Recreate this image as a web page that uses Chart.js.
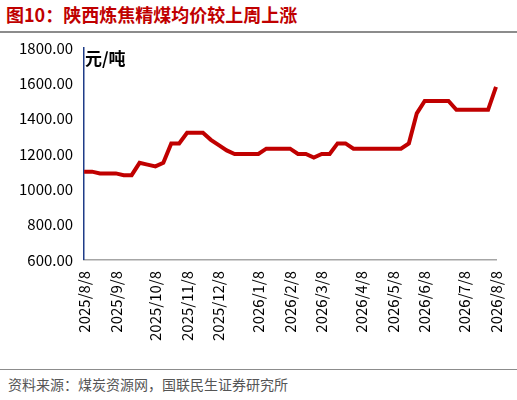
<!DOCTYPE html>
<html><head><meta charset="utf-8">
<script src="https://cdn.jsdelivr.net/npm/chart.js@4"></script>
<style>
body{margin:0;width:517px;height:400px;background:#fff;font-family:"Noto Sans CJK SC",sans-serif;position:relative;overflow:hidden}
#title{position:absolute;left:6px;top:1px;font-size:18px;font-weight:bold;color:#c00000}
#tl{position:absolute;left:0;top:31px;width:517px;border-top:2px solid #8c8c8c}
#bl{position:absolute;left:0;top:369px;width:517px;border-top:1px solid #8c8c8c}
#src{position:absolute;left:8px;top:374px;font-size:14px;color:#555}
#unit{position:absolute;left:85px;top:45px;font-size:17px;font-weight:bold;color:#000}
#wrap{position:absolute;left:0;top:36px;width:517px;height:308px}
</style></head><body>
<div id="title">图10：陕西炼焦精煤均价较上周上涨</div>
<div id="tl"></div>
<div id="wrap"><canvas id="c"></canvas></div>
<div id="unit">元/吨</div>
<div id="bl"></div>
<div id="src">资料来源：煤炭资源网，国联民生证券研究所</div>
<script>
const monthLabels = ["2025/8/8","2025/9/8","2025/10/8","2025/11/8","2025/12/8","2026/1/8","2026/2/8","2026/3/8","2026/4/8","2026/5/8","2026/6/8","2026/7/8","2026/8/8"];
const prices = [1100,1100,1090,1090,1090,1080,1080,1150,1140,1130,1150,1260,1260,1320,1320,1320,1280,1250,1220,1200,1200,1200,1200,1230,1230,1230,1230,1200,1200,1180,1200,1200,1260,1260,1230,1230,1230,1230,1230,1230,1230,1260,1430,1500,1500,1500,1500,1450,1450,1450,1450,1450,1580];
const yTicks = [600,800,1000,1200,1400,1600,1800];

const n = prices.length;
const labels = new Array(n).fill("");
monthLabels.forEach((m, k) => { labels[Math.round(k * (n - 1) / (monthLabels.length - 1))] = m; });

new Chart(document.getElementById("c"), {
    type: "line",
    data: {
        labels: labels,
        datasets: [{
            data: prices,
            borderColor: "#c00000",
            borderWidth: 4,
            pointRadius: 0,
            tension: 0
        }]
    },
    options: {
        responsive: true,
        maintainAspectRatio: false,
        animation: false,
        layout: { padding: { left: 16, right: 14, top: 10, bottom: 0 } },
        plugins: { legend: { display: false }, tooltip: { enabled: false } },
        scales: {
            x: {
                grid: { display: false },
                border: { color: "#a6a6a6", width: 1.5 },
                ticks: {
                    autoSkip: false, maxRotation: 90, minRotation: 90,
                    color: "#000", font: { size: 15, family: "Noto Sans CJK SC" },
                    callback: function (v, i) { return labels[i]; }
                }
            },
            y: {
                min: 600, max: 1800,
                afterBuildTicks: s => { s.ticks = yTicks.map(v => ({ value: v })); },
                grid: { display: false },
                border: { color: "#1f3c88", width: 1.5 },
                ticks: {
                    color: "#000", font: { size: 15, family: "Noto Sans CJK SC" },
                    callback: v => v.toFixed(2)
                }
            }
        }
    }
});
</script>
</body></html>
